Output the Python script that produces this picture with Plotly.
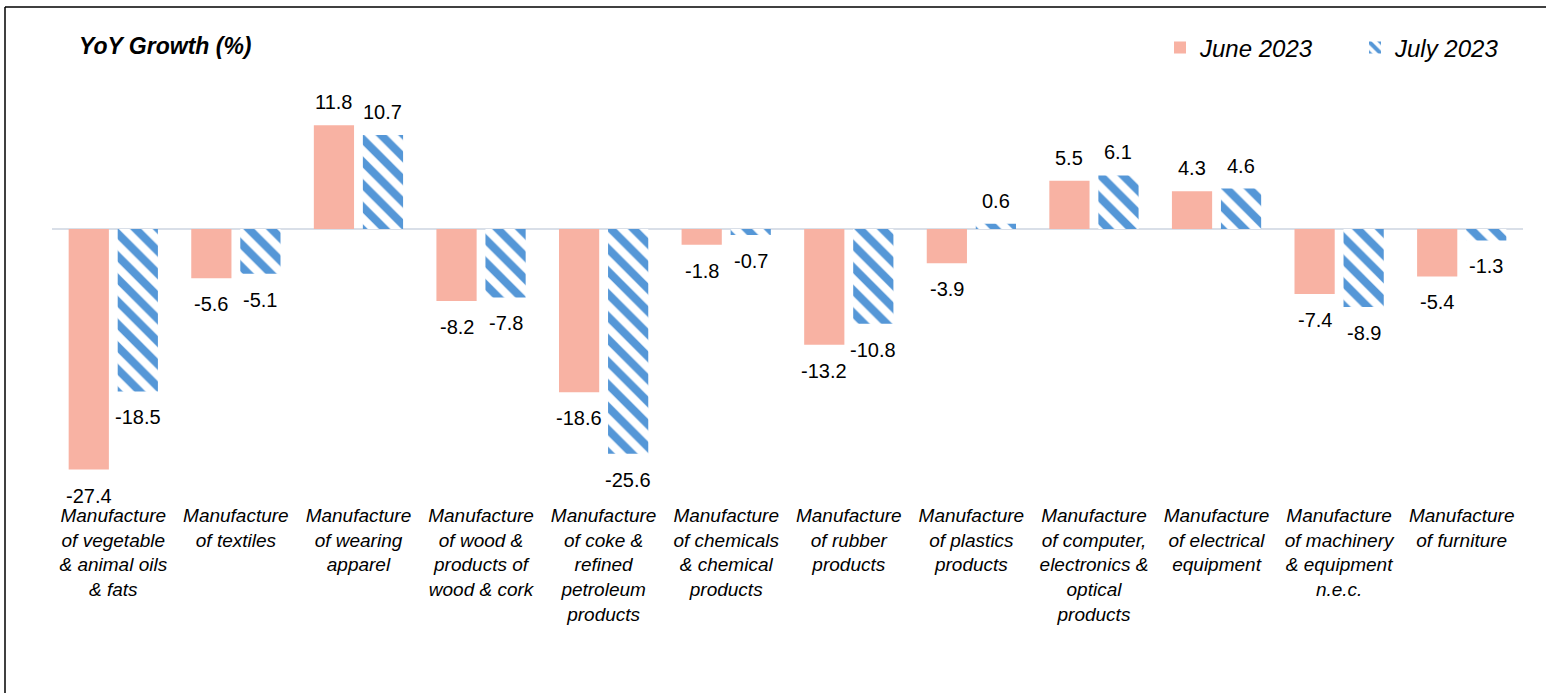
import plotly.graph_objects as go

categories = [
    "Manufacture<br>of vegetable<br>& animal oils<br>& fats",
    "Manufacture<br>of textiles",
    "Manufacture<br>of wearing<br>apparel",
    "Manufacture<br>of wood &<br>products of<br>wood & cork",
    "Manufacture<br>of coke &<br>refined<br>petroleum<br>products",
    "Manufacture<br>of chemicals<br>& chemical<br>products",
    "Manufacture<br>of rubber<br>products",
    "Manufacture<br>of plastics<br>products",
    "Manufacture<br>of computer,<br>electronics &<br>optical<br>products",
    "Manufacture<br>of electrical<br>equipment",
    "Manufacture<br>of machinery<br>& equipment<br>n.e.c.",
    "Manufacture<br>of furniture",
]
june_2023 = [-27.4, -5.6, 11.8, -8.2, -18.6, -1.8, -13.2, -3.9, 5.5, 4.3, -7.4, -5.4]
july_2023 = [-18.5, -5.1, 10.7, -7.8, -25.6, -0.7, -10.8, 0.6, 6.1, 4.6, -8.9, -1.3]
series_names = ["June 2023", "July 2023"]

FONT = "Liberation Sans, Arial, sans-serif"
W, H = 1546, 693
L, R, T, B = 52, 23, 100, 193

fig = go.Figure()
fig.add_trace(go.Bar(
    x=categories, y=june_2023, name=series_names[0],
    marker=dict(color="#F8B2A3", line=dict(width=0)),
))
fig.add_trace(go.Bar(
    x=categories, y=july_2023, name=series_names[1],
    marker=dict(color="white", line=dict(width=0),
                pattern=dict(shape="\\", fgcolor="#5597D7", bgcolor="white",
                             size=16, solidity=0.5, fgopacity=1, fillmode="replace")),
))

annotations = []
for vals, shift in ((june_2023, -24.5), (july_2023, 24.5)):
    for c, v in zip(categories, vals):
        annotations.append(dict(
            x=c, y=v, xref="x", yref="y", text=f"{v:.1f}", showarrow=False,
            xshift=shift, yanchor="bottom" if v >= 0 else "top",
            yshift=10 if v >= 0 else -13,
            font=dict(family=FONT, size=20, color="black"),
        ))

plot_h = H - T - B
plot_w = W - L - R
annotations.append(dict(
    text="<b><i>YoY Growth (%)</i></b>", xref="paper", yref="paper",
    x=(77 - L) / plot_w, y=(H - B - 46) / plot_h, xanchor="left", yanchor="middle",
    showarrow=False, font=dict(family=FONT, size=23, color="black"),
))

x_left = (5 - L) / plot_w
y_top = (H - B - 7) / plot_h
border = dict(color="black", width=1.5)

fig.update_layout(
    width=W, height=H,
    margin=dict(l=L, r=R, t=T, b=B, autoexpand=False),
    paper_bgcolor="white", plot_bgcolor="white",
    barmode="group", bargap=0.2, bargroupgap=0.18,
    font=dict(family=FONT, color="black"),
    showlegend=True,
    legend=dict(
        orientation="h", x=(1160 - L) / plot_w, y=(H - B - 48) / plot_h,
        xanchor="left", yanchor="middle",
        font=dict(family=FONT, size=24, color="black", style="italic"),
        entrywidth=150, entrywidthmode="pixels", itemwidth=30,
        bgcolor="rgba(0,0,0,0)",
    ),
    xaxis=dict(
        showgrid=False, zeroline=False, showline=False, ticks="",
        tickfont=dict(family=FONT, size=19, color="black", style="italic"),
        tickangle=0, automargin=False, ticklabelstandoff=2,
    ),
    yaxis=dict(
        range=[-30.87, 14.69], showgrid=False, showticklabels=False,
        zeroline=True, zerolinecolor="#D9DFE8", zerolinewidth=2,
        showline=False, ticks="", automargin=False,
    ),
    annotations=annotations,
    shapes=[
        dict(type="line", xref="paper", yref="paper",
             x0=x_left, x1=1.3, y0=y_top, y1=y_top, line=border, layer="above"),
        dict(type="line", xref="paper", yref="paper",
             x0=x_left, x1=x_left, y0=-1.0, y1=y_top, line=border, layer="above"),
    ],
)

fig.write_html(
    "out.html",
    config={"displayModeBar": False},
    post_script="document.body.style.margin='0px';document.body.style.overflow='hidden';",
)
